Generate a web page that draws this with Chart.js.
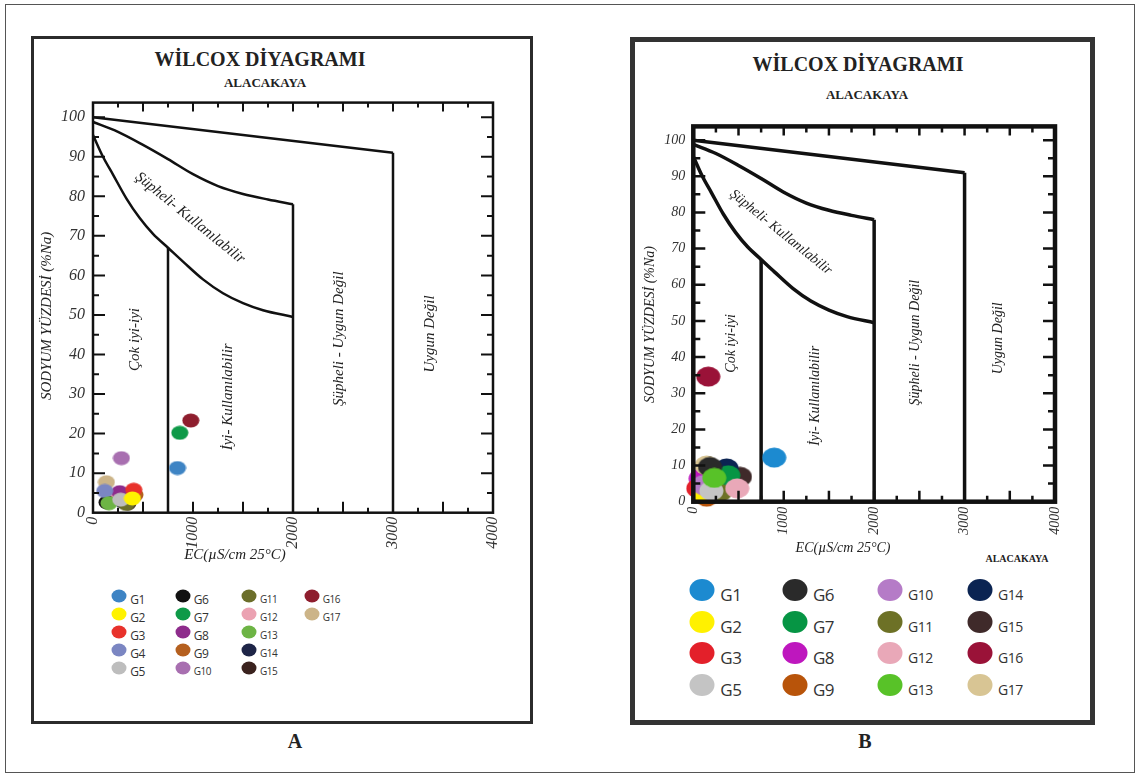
<!DOCTYPE html>
<html lang="tr">
<head>
<meta charset="UTF-8" />
<title>Wilcox Diyagramı - Alacakaya</title>
<script src="https://cdn.jsdelivr.net/npm/chart.js"></script>
<style>
  body {
    margin: 0;
    width: 1140px;
    height: 773px;
    position: relative;
    overflow: hidden;
    background: #fff;
    font-family: "Liberation Serif", "Times New Roman", serif;
    color: #222;
  }
  .outer {
    position: absolute;
    left: 5px; top: 4px; width: 1130px; height: 769px;
    border: 1.5px solid #555;
    box-sizing: border-box;
  }
  .panel { position: absolute; box-sizing: border-box; border: 3px solid #2b2b2b; }
  #panelA { left: 31px; top: 36px; width: 502px; height: 688px; }
  #panelB { left: 630px; top: 37px; width: 465px; height: 688px; border-width: 5px; border-color: #333; }
  .txt { position: absolute; white-space: nowrap; transform: translate(-50%, -50%); font-weight: bold; }
  .chartbox { position: absolute; }
  .sw { position: absolute; border-radius: 50%; transform: translate(-50%, -50%); }
  .lab {
    position: absolute; white-space: nowrap; transform: translateY(-50%);
    font-family: "Open Sans", sans-serif; color: #333; letter-spacing: -0.5px;
  }
</style>
</head>
<body>
<div class="outer"></div>
<div class="panel" id="panelA"></div>
<div class="panel" id="panelB"></div>

<div class="txt" style="left:260px; top:59px; font-size:20px;">WİLCOX DİYAGRAMI</div>
<div class="txt" style="left:265px; top:83px; font-size:13px;">ALACAKAYA</div>
<div class="txt" style="left:858px; top:64px; font-size:20px;">WİLCOX DİYAGRAMI</div>
<div class="txt" style="left:867px; top:95px; font-size:13px;">ALACAKAYA</div>
<div class="txt" style="left:1017px; top:558px; font-size:10px;">ALACAKAYA</div>
<div class="txt" style="left:295px; top:741px; font-size:20px;">A</div>
<div class="txt" style="left:865px; top:741px; font-size:20px;">B</div>

<div class="chartbox" style="left:35px; top:85px;"><canvas id="chartA" width="490" height="480"></canvas></div>
<div class="chartbox" style="left:640px; top:110px;"><canvas id="chartB" width="445" height="460"></canvas></div>
<div id="legendA"></div>
<div id="legendB"></div>

<script>
// ---- data ----
const ecTicks = [0, 1000, 2000, 3000, 4000];
const naTicks = [0, 10, 20, 30, 40, 50, 60, 70, 80, 90, 100];

// Wilcox class boundaries (EC µS/cm, %Na)
const topEC = [0, 3000];
const topNa = [100, 91];
const midEC = [0, 250, 500, 750, 1000, 1250, 1500, 1750, 2000];
const midNa = [98.8, 96.3, 93.0, 89.4, 85.6, 82.6, 80.6, 79.2, 78.0];
const lowEC = [0, 100, 200, 333, 467, 600, 750, 900, 1100, 1300, 1500, 1700, 2000];
const lowNa = [95.5, 90, 85.5, 79.5, 74.5, 70.5, 67, 63.5, 59, 55.5, 53, 51.2, 49.5];
const v750Na = [67, 0];
const v2000Na = [78, 0];
const v3000Na = [91, 0];

const regionText = ["Çok iyi-iyi", "İyi- Kullanılabilir", "Şüpheli - Uygun Değil", "Uygun Değil", "Şüpheli- Kullanılabilir"];

// panel A samples
const groupsA = ["G1","G2","G3","G4","G5","G6","G7","G8","G9","G10","G11","G12","G13","G14","G15","G16","G17"];
const ecA = [845, 394, 407, 117, 277, 140, 868, 267, 420, 284, 334, 175, 160, 300, 350, 978, 134];
const naA = [11.3, 3.6, 5.8, 5.5, 3.3, 2.6, 20.2, 5.2, 4.5, 13.8, 2.2, 3.8, 2.4, 2.8, 2.4, 23.3, 7.7];
const colorsA = ["#3e84c4","#fff200","#e8322b","#7b86c2","#bdbdbd","#111111","#0e9a48","#8e2c8c","#b5601f",
                 "#a86fb0","#6b6e2a","#eba2b2","#6db445","#1e2547","#3a221e","#8e1e2e","#ccb488"];

// panel B samples (no G4)
const groupsB = ["G1","G2","G3","G5","G6","G7","G8","G9","G10","G11","G12","G13","G14","G15","G16","G17"];
const ecB = [895, 129, 55, 200, 185, 387, 82, 148, 110, 295, 486, 232, 369, 516, 166, 148];
const naB = [12.2, 2.2, 3.7, 3.0, 9.6, 7.3, 6.4, 1.4, 4.6, 2.7, 3.7, 6.6, 9.2, 6.9, 34.6, 10.0];
const colorsB = ["#1c8ad0","#fff100","#e3202a","#c4c4c4","#2a2a2a","#069544","#be17be","#b8540a",
                 "#b57bc7","#6d7126","#e9a8b8","#58c228","#0b2452","#3f2a2a","#9a1238","#d8c594"];

// ---- helpers ----
function pts(xs, ys) {
  return xs.map((v, i) => ({ x: v, y: ys[i] }));
}

function ellipse(color, w, h) {
  const c = document.createElement("canvas");
  c.width = w; c.height = h;
  const g = c.getContext("2d");
  g.fillStyle = color;
  g.beginPath();
  g.ellipse(w / 2, h / 2, w / 2 - 0.5, h / 2 - 0.5, 0, 0, Math.PI * 2);
  g.fill();
  return c;
}

const serif = "'Liberation Serif', 'Times New Roman', serif";

// frame, inward ticks, axis titles, zone names
const wilcoxDeco = {
  id: "wilcoxDeco",
  afterDatasetsDraw(chart, args, o) {
    const { ctx, chartArea: a } = chart;
    const x = chart.scales.x, y = chart.scales.y;
    ctx.save();
    ctx.strokeStyle = "#111";
    ctx.lineWidth = o.frame;
    ctx.strokeRect(a.left, a.top, a.right - a.left, a.bottom - a.top);

    ctx.lineWidth = o.tickWidth;
    ctx.beginPath();
    for (let v = 250; v < 4000; v += 250) {
      const px = x.getPixelForValue(v);
      const big = v % 500 === 0;
      ctx.moveTo(px, a.bottom);
      ctx.lineTo(px, a.bottom - (big ? o.long : o.short));
      ctx.moveTo(px, a.top);
      ctx.lineTo(px, a.top + (big ? o.long - 2 : o.short));
    }
    for (let v = 5; v <= 100; v += 5) {
      const py = y.getPixelForValue(v);
      const big = v % 10 === 0;
      const l = big ? o.long + 1 : o.short + 1;
      ctx.moveTo(a.left, py);
      ctx.lineTo(a.left + l, py);
      ctx.moveTo(a.right, py);
      ctx.lineTo(a.right - l, py);
    }
    ctx.stroke();

    ctx.fillStyle = "#222";
    ctx.textAlign = "center";
    ctx.textBaseline = "middle";
    ctx.font = "italic " + o.titleSize + "px " + serif;
    ctx.fillText("EC(µS/cm 25°C)", a.left + o.xTitleFrac * (a.right - a.left), a.bottom + o.xTitleGap);
    ctx.save();
    ctx.translate(a.left - o.yTitleGap, a.top + o.yTitleFrac * (a.bottom - a.top));
    ctx.rotate(-Math.PI / 2);
    ctx.fillText("SODYUM YÜZDESİ (%Na)", 0, 0);
    ctx.restore();

    ctx.font = "italic " + o.zoneSize + "px " + serif;
    regionText.forEach((t, i) => {
      const anc = o.anchors[i];
      ctx.save();
      ctx.translate(x.getPixelForValue(anc[0]), y.getPixelForValue(anc[1]));
      ctx.rotate(anc[2] * Math.PI / 180);
      ctx.fillText(t, 0, 0);
      ctx.restore();
    });
    ctx.restore();
  }
};

const zoneAnchors = [[417, 43.8, -90], [1348, 29.3, -90], [2460, 44, -90], [3370, 45.2, -90], [970, 74.5, 39]];

function makeChart(id, groups, ec, na, colors, front, back, g) {
  const lineStyle = { showLine: true, pointRadius: 0, borderColor: "#111", borderWidth: g.line, order: 100, clip: false };
  const datasets = [
    { ...lineStyle, data: pts(topEC, topNa) },
    { ...lineStyle, data: pts([3000, 3000], v3000Na) },
    { ...lineStyle, data: pts(midEC, midNa), cubicInterpolationMode: "monotone" },
    { ...lineStyle, data: pts([2000, 2000], v2000Na) },
    { ...lineStyle, data: pts(lowEC, lowNa), cubicInterpolationMode: "monotone" },
    { ...lineStyle, data: pts([750, 750], v750Na) }
  ];
  groups.forEach((name, i) => {
    datasets.push({
      label: name,
      data: [{ x: ec[i], y: na[i] }],
      pointStyle: ellipse(colors[i], g.pw, g.ph),
      pointRadius: 9,
      clip: false,
      order: front.includes(name) ? -1 : back.includes(name) ? 1 : 0
    });
  });

  const tickFont = { family: serif, style: "italic", size: g.tickSize };
  return new Chart(document.getElementById(id), {
    type: "scatter",
    data: { datasets },
    options: {
      responsive: false,
      animation: false,
      events: [],
      layout: { padding: { top: g.padTop, right: g.padRight, left: 0, bottom: 0 } },
      plugins: {
        legend: { display: false },
        tooltip: { enabled: false },
        wilcoxDeco: {
          frame: g.frame, tickWidth: g.tickWidth, long: g.long, short: g.short,
          titleSize: g.titleSize, zoneSize: g.zoneSize,
          xTitleFrac: g.xTitleFrac, xTitleGap: g.xTitleGap,
          yTitleFrac: g.yTitleFrac, yTitleGap: g.yTitleGap,
          anchors: zoneAnchors
        }
      },
      scales: {
        x: {
          type: "linear", min: 0, max: 4000,
          grid: { display: false, drawTicks: false },
          border: { display: false },
          afterBuildTicks: s => { s.ticks = ecTicks.map(v => ({ value: v })); },
          afterFit: s => { s.height = g.xHeight; },
          ticks: { minRotation: 90, maxRotation: 90, padding: g.xPad, color: "#333", font: tickFont,
                   callback: v => String(v) }
        },
        y: {
          min: 0, max: g.yMax,
          grid: { display: false, drawTicks: false },
          border: { display: false },
          afterBuildTicks: s => { s.ticks = naTicks.map(v => ({ value: v })); },
          afterFit: s => { s.width = g.yWidth; },
          ticks: { padding: 8, color: "#333", font: tickFont, callback: v => String(v) }
        }
      }
    },
    plugins: [wilcoxDeco]
  });
}

makeChart("chartA", groupsA, ecA, naA, colorsA, ["G13", "G5", "G2", "G3"], [], {
  padTop: 11.7, padRight: 32, yWidth: 58, xHeight: 52.3, yMax: 103.7,
  line: 2.5, frame: 2.5, tickWidth: 2, long: 11, short: 5,
  pw: 18, ph: 15, tickSize: 16, xPad: 4,
  titleSize: 15, zoneSize: 15,
  xTitleFrac: 0.355, xTitleGap: 42, yTitleFrac: 0.52, yTitleGap: 46
});

makeChart("chartB", groupsB, ecB, naB, colorsB, ["G13", "G12"], ["G2", "G3", "G9", "G8"], {
  padTop: 13.3, padRight: 30, yWidth: 53.3, xHeight: 68.3, yMax: 103.8,
  line: 3.5, frame: 4.5, tickWidth: 2.5, long: 11, short: 6,
  pw: 25, ph: 21, tickSize: 14, xPad: 5,
  titleSize: 14, zoneSize: 14,
  xTitleFrac: 0.414, xTitleGap: 47, yTitleFrac: 0.528, yTitleGap: 43
});

// legends as html grids
function buildLegend(el, groups, colors, g) {
  const host = document.getElementById(el);
  groups.forEach((name, i) => {
    const col = Math.floor(i / g.perCol), row = i % g.perCol;
    const cx = g.colX[col], cy = g.rowY[row];
    const sw = document.createElement("div");
    sw.className = "sw";
    sw.style.cssText = `left:${cx}px;top:${cy}px;width:${g.w}px;height:${g.h}px;background:${colors[i]}`;
    host.appendChild(sw);
    const lb = document.createElement("div");
    lb.className = "lab";
    lb.textContent = name;
    const size = name.length > 2 ? g.font2 : g.font1;
    lb.style.cssText = `left:${cx + g.gap}px;top:${cy + g.dy}px;font-size:${size}px`;
    host.appendChild(lb);
  });
}

buildLegend("legendA", groupsA, colorsA, {
  perCol: 5, colX: [119.3, 182.7, 249, 311.7], rowY: [596, 614, 632, 650, 668],
  w: 15, h: 13, gap: 11, dy: 3, font1: 12, font2: 10
});
buildLegend("legendB", groupsB, colorsB, {
  perCol: 4, colX: [702.3, 795, 890, 980], rowY: [590, 622, 653, 685],
  w: 25, h: 22, gap: 18, dy: 4, font1: 17, font2: 14
});
</script>
</body>
</html>
